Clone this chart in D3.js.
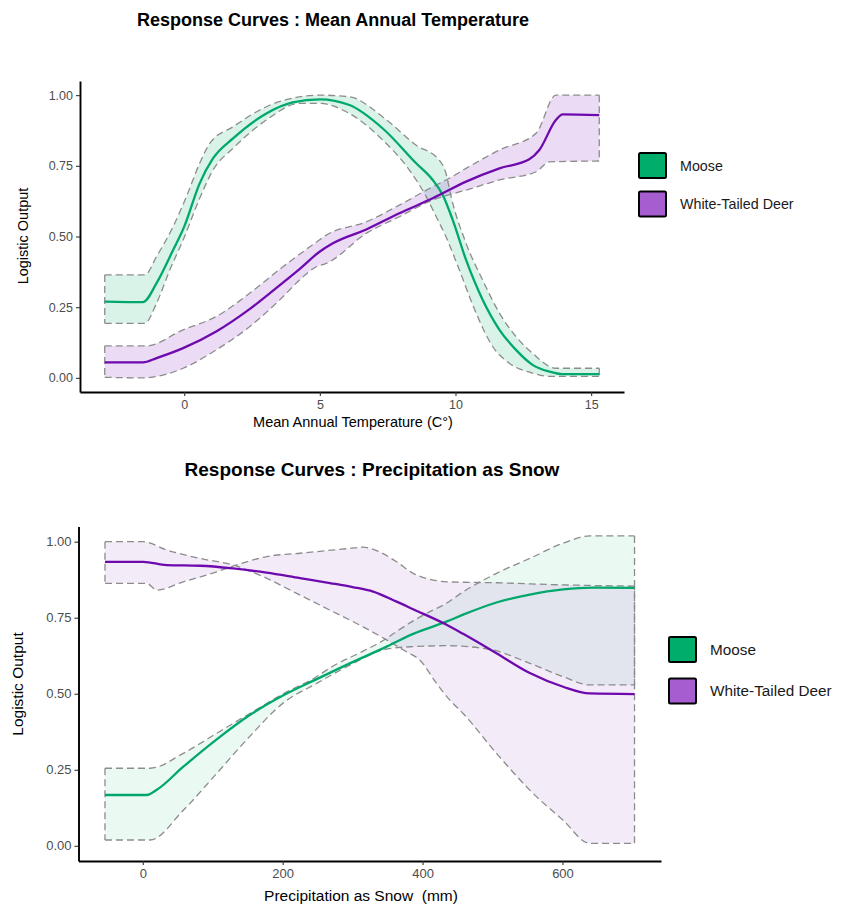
<!DOCTYPE html>
<html>
<head>
<meta charset="utf-8">
<script src="https://cdn.jsdelivr.net/npm/d3@7"></script>
<style>
  body { margin: 0; background: #fff; }
  svg { font-family: "Liberation Sans", Arial, sans-serif; }
  text { white-space: pre; }
  .band-line { fill: none; stroke: #8c8c8c; stroke-width: 1.3; stroke-dasharray: 7 4; }
  .fit { fill: none; stroke-width: 2.3; }
  .axis .domain { stroke: #000; stroke-width: 1.9; }
  .axis .tick line { stroke: #333; stroke-width: 1.1; }
</style>
</head>
<body>
<script>
const WIDTH = 842, HEIGHT = 907;

const species = ["Moose", "White-Tailed Deer"];
const lineColors = ["#00a86b", "#6e0aad"];
const keyColors = ["#00ad6b", "#a65dd0"];

// ---- Mean Annual Temperature panel ----
const tempTicksX = [0, 5, 10, 15];
const tempMooseFit = [[-2.93,0.27],[-1.52,0.268],[-1.02,0.335],[-0.41,0.452],[0,0.535],[0.57,0.688],[1.06,0.776],[1.8,0.847],[3.03,0.935],[4.0,0.974],[5.0,0.985],[6.09,0.965],[7.32,0.882],[8.55,0.759],[9.16,0.70],[9.53,0.647],[9.9,0.558],[10.39,0.417],[11.0,0.276],[11.62,0.17],[12.23,0.099],[12.84,0.046],[13.46,0.022],[13.95,0.013],[15.3,0.013]];
const tempMooseUpper = [[-2.93,0.364],[-1.45,0.364],[-1.02,0.429],[-0.41,0.535],[0.08,0.641],[0.57,0.759],[0.94,0.829],[1.8,0.888],[3.03,0.959],[4.25,0.994],[5.0,1.0],[6.09,0.994],[7.32,0.923],[8.55,0.823],[9.4,0.77],[9.65,0.723],[9.84,0.64],[10.39,0.476],[11.0,0.346],[11.62,0.229],[12.23,0.146],[12.84,0.087],[13.7,0.034],[15.3,0.034]];
const tempMooseLower = [[-2.93,0.193],[-1.45,0.193],[-1.02,0.264],[-0.53,0.382],[-0.04,0.488],[0.57,0.635],[1.06,0.735],[1.8,0.812],[3.03,0.912],[4.25,0.971],[5.0,0.971],[6.09,0.935],[7.32,0.841],[8.3,0.735],[8.92,0.641],[9.29,0.57],[9.65,0.499],[10.14,0.382],[10.76,0.229],[11.37,0.111],[11.98,0.052],[12.84,0.017],[13.46,0.005],[15.3,0.005]];
const tempDeerFit = [[-2.93,0.055],[-1.52,0.055],[-1.02,0.07],[-0.04,0.105],[1.18,0.164],[2.41,0.243],[3.64,0.337],[4.25,0.385],[4.99,0.446],[5.48,0.476],[6.71,0.525],[7.93,0.582],[9.16,0.635],[10.39,0.694],[11.62,0.741],[12.72,0.773],[13.09,0.806],[13.7,0.912],[13.95,0.932],[15.3,0.929]];
const tempDeerUpper = [[-2.93,0.113],[-1.4,0.113],[-0.04,0.17],[1.18,0.217],[2.41,0.299],[3.64,0.393],[4.87,0.48],[5.24,0.505],[6.71,0.552],[7.93,0.611],[9.16,0.676],[9.77,0.706],[10.39,0.741],[11.62,0.806],[12.97,0.865],[13.7,1.0],[15.3,1.0]];
const tempDeerLower = [[-2.93,0.002],[-1.52,0.0],[-0.04,0.034],[1.18,0.099],[2.41,0.181],[3.64,0.287],[4.25,0.346],[4.87,0.393],[5.24,0.405],[6.71,0.511],[7.93,0.57],[9.16,0.629],[10.39,0.664],[11.62,0.70],[12.97,0.729],[13.46,0.764],[15.3,0.767]];

// ---- Precipitation as Snow panel ----
const snowTicksX = [0, 200, 400, 600];
const snowMooseFit = [[-54,0.167],[5.7,0.167],[20,0.184],[58,0.26],[105.7,0.35],[153,0.43],[201,0.495],[248.6,0.548],[296,0.60],[348.6,0.655],[386.6,0.697],[434,0.737],[458,0.76],[505.7,0.80],[553.3,0.826],[600.9,0.843],[643.7,0.849],[703,0.848]];
const snowMooseUpper = [[-54,0.255],[10.4,0.255],[58,0.304],[105.7,0.37],[153,0.435],[201,0.50],[248.6,0.556],[267.6,0.585],[315,0.64],[348.6,0.682],[362.9,0.705],[410.4,0.77],[434,0.797],[458,0.835],[505.7,0.896],[553.3,0.945],[600.9,0.995],[639,1.019],[703,1.019]];
const snowMooseLower = [[-54,0.019],[10.4,0.019],[58,0.117],[105.7,0.238],[153,0.36],[201,0.47],[248.6,0.534],[296,0.594],[348.6,0.647],[386.6,0.655],[434.2,0.658],[496,0.646],[553.3,0.6],[600.9,0.556],[639,0.529],[703,0.529]];
const snowDeerFit = [[-54,0.934],[0.9,0.934],[34,0.923],[82,0.921],[129.4,0.912],[177,0.898],[224.7,0.88],[267.6,0.864],[300,0.851],[329.4,0.836],[362.9,0.803],[386.6,0.778],[434.3,0.727],[458,0.697],[505.7,0.633],[553.3,0.568],[600.9,0.523],[639,0.501],[703,0.499]];
const snowDeerBandA = [[-54,1.0],[0.9,1.0],[34,0.973],[82,0.945],[129.4,0.923],[172.3,0.885],[220,0.83],[267.6,0.775],[315,0.72],[348.6,0.677],[377,0.638],[396,0.611],[420,0.534],[439,0.479],[458,0.435],[505.7,0.304],[553.3,0.183],[600.9,0.084],[639,0.008],[703,0.008]];
const snowDeerBandB = [[-54,0.863],[5.7,0.863],[20,0.841],[58,0.868],[105.7,0.901],[129.4,0.92],[177,0.951],[224.7,0.962],[296,0.978],[315,0.982],[329.4,0.975],[362.9,0.934],[386.6,0.896],[420,0.872],[434.3,0.868],[505.7,0.865],[600.9,0.858],[703,0.854]];

const tickY = [0, 0.25, 0.5, 0.75, 1];

const svg = d3.select("body").append("svg").attr("width", WIDTH).attr("height", HEIGHT);

function drawPanel(p) {
  const g = svg.append("g");
  const xs = p.series.flatMap(s => s.fit.map(d => d[0]));
  const [x0, x1] = d3.extent(xs);
  const pad = (x1 - x0) * 0.05;
  const x = d3.scaleLinear().domain([x0 - pad, x1 + pad]).range([p.left, p.right]);
  const y = d3.scaleLinear().domain([-0.05, 1.05]).range([p.bottom, p.top]);

  const curve = d3.curveMonotoneX;
  const ln = d3.line().x(d => x(d[0])).y(d => y(d[1])).curve(curve);

  // ribbons: upper edge forward, lower edge back
  p.series.forEach((s, i) => {
    const up = ln(s.upper);
    const lo = ln(s.lower.slice().reverse());
    g.append("path")
      .attr("d", up + "L" + lo.slice(1) + "Z")
      .attr("fill", keyColors[i])
      .attr("fill-opacity", p.alpha[i]);
  });
  p.series.forEach(s => {
    g.append("path").attr("class", "band-line").attr("d", ln(s.upper));
    g.append("path").attr("class", "band-line").attr("d", ln(s.lower));
    [0, s.upper.length - 1].forEach((k, j) => {
      const a = s.upper[k], b = j === 0 ? s.lower[0] : s.lower[s.lower.length - 1];
      g.append("line").attr("class", "band-line")
        .attr("x1", x(a[0])).attr("x2", x(b[0]))
        .attr("y1", y(a[1])).attr("y2", y(b[1]));
    });
  });
  p.series.forEach((s, i) => {
    g.append("path").attr("class", "fit").attr("stroke", lineColors[i]).attr("d", ln(s.fit));
  });

  const xAxis = d3.axisBottom(x).tickValues(p.ticksX).tickSize(4).tickSizeOuter(0).tickPadding(4);
  g.append("g").attr("class", "axis").attr("transform", "translate(0," + p.bottom + ")").call(xAxis)
    .selectAll("text").attr("font-size", p.tickFont).attr("fill", "#4d4d4d");
  const yAxis = d3.axisLeft(y).tickValues(tickY).tickFormat(d3.format(".2f")).tickSize(4).tickSizeOuter(0).tickPadding(3);
  g.append("g").attr("class", "axis").attr("transform", "translate(" + p.left + ",0)").call(yAxis)
    .selectAll("text").attr("font-size", p.tickFont).attr("fill", "#4d4d4d");
  g.selectAll(".axis").attr("font-family", null).attr("font-size", null);

  svg.append("text").attr("x", p.titleX).attr("y", p.titleY).attr("text-anchor", "middle")
    .attr("font-weight", "bold").attr("font-size", p.titleFont).attr("fill", "#000").text(p.title);
  svg.append("text").attr("x", p.xLabelX).attr("y", p.xLabelY).attr("text-anchor", "middle")
    .attr("font-size", p.labelFont).attr("fill", "#000").text(p.xLabel);
  svg.append("text").attr("transform", "translate(" + p.yLabelX + "," + p.yLabelY + ") rotate(-90)")
    .attr("text-anchor", "middle").attr("font-size", p.labelFont).attr("fill", "#000").text("Logistic Output");

  const leg = svg.append("g").attr("transform", "translate(" + p.legX + "," + p.legY + ")");
  species.forEach((name, i) => {
    leg.append("rect").attr("x", 0).attr("y", i * p.legStep).attr("width", 27).attr("height", 25)
      .attr("rx", 1.5).attr("fill", keyColors[i]).attr("stroke", "#000").attr("stroke-width", 2);
    leg.append("text").attr("x", 41).attr("y", i * p.legStep + 12.5).attr("dy", "0.35em")
      .attr("font-size", p.legFont).attr("fill", "#1a1a1a").text(name);
  });
}

drawPanel({
  title: "Response Curves : Mean Annual Temperature", titleX: 333, titleY: 26, titleFont: 18,
  xLabel: "Mean Annual Temperature (C\u00b0)", xLabelX: 353, xLabelY: 427,
  yLabelX: 28, yLabelY: 236,
  left: 80, right: 624, top: 81, bottom: 392,
  ticksX: tempTicksX, tickFont: 12.5, labelFont: 14.5, legFont: 14.3,
  legX: 639, legY: 153, legStep: 38.5,
  alpha: [0.15, 0.22],
  series: [
    { fit: tempMooseFit, upper: tempMooseUpper, lower: tempMooseLower },
    { fit: tempDeerFit, upper: tempDeerUpper, lower: tempDeerLower }
  ]
});

drawPanel({
  title: "Response Curves : Precipitation as Snow", titleX: 372, titleY: 476, titleFont: 19,
  xLabel: "Precipitation as Snow  (mm)", xLabelX: 361, xLabelY: 901,
  yLabelX: 23, yLabelY: 684,
  left: 78.5, right: 661, top: 526.5, bottom: 861,
  ticksX: snowTicksX, tickFont: 13, labelFont: 15.5, legFont: 15.3,
  legX: 669, legY: 637, legStep: 41.5,
  alpha: [0.08, 0.12],
  series: [
    { fit: snowMooseFit, upper: snowMooseUpper, lower: snowMooseLower },
    { fit: snowDeerFit, upper: snowDeerBandA, lower: snowDeerBandB }
  ]
});
</script>
</body>
</html>
